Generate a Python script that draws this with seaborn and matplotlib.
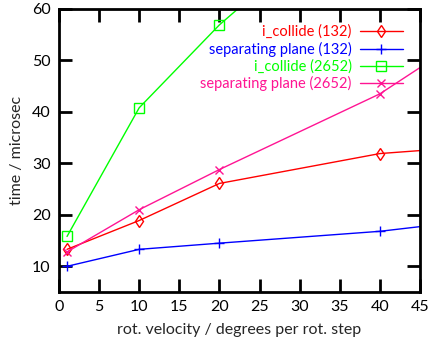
import pandas as pd
import seaborn as sns
import matplotlib.pyplot as plt

# rot. velocity (degrees per rot. step); the last point of each series lies off-screen
x_small = [1, 10, 20, 40, 90]
x_large = [1, 10, 20, 40]

collide_132 = [13.3, 18.9, 26.1, 31.9, 37.7]
plane_132 = [10.0, 13.3, 14.5, 16.8, 25.9]
collide_2652 = [15.8, 40.8, 56.9, 83.9]
plane_2652 = [12.8, 21.0, 28.8, 43.5, 94.5]

series = [
    ('i_collide (132)', x_small, collide_132, '#ff0000', 'd'),
    ('separating plane (132)', x_small, plane_132, '#0000ff', '+'),
    ('i_collide (2652)', x_large, collide_2652, '#00ff00', 's'),
    ('separating plane (2652)', x_small, plane_2652, '#ff1493', 'x'),
]

sns.set_theme(rc={"figure.figsize": (4.29, 3.42), "figure.dpi": 100})
sns.set_style('ticks')
plt.rcParams['font.family'] = ['Lato', 'DejaVu Sans']

fig = plt.figure()
ax = fig.add_axes([0.1375, 0.146, 0.8415, 0.828])

for name, xs, ys, color, marker in series:
    df = pd.DataFrame({'x': xs, 'y': ys})
    sns.lineplot(data=df, x='x', y='y', ax=ax, color=color, marker=marker,
                 markersize=6.5 if marker != 'x' else 5.5, mfc='none', mec=color,
                 mew=1, linewidth=1, label=name, sort=False)

ax.set_xlim(0, 45)
ax.set_ylim(5, 60)
ax.set_xticks(range(0, 50, 5))
ax.set_yticks(range(10, 70, 10))
ax.tick_params(direction='in', length=9.5, width=2, top=True, right=True,
               labelsize=11.5, colors='black', pad=6)
for sp in ax.spines.values():
    sp.set_linewidth(2)
    sp.set_color('black')
    sp.set_visible(True)

ax.set_xlabel('rot. velocity / degrees per rot. step', fontsize=11.5, labelpad=6)
ax.set_ylabel('time / microsec', fontsize=11.5, labelpad=6)

leg = ax.legend(loc='upper right', bbox_to_anchor=(0.97, 0.965), frameon=False,
                markerfirst=False, fontsize=10.5, handlelength=3.0,
                handletextpad=0.55, labelspacing=0.18, borderaxespad=0)
for text, (_, _, _, color, _) in zip(leg.get_texts(), series):
    text.set_color(color)

fig.savefig('out.png', dpi=100)
